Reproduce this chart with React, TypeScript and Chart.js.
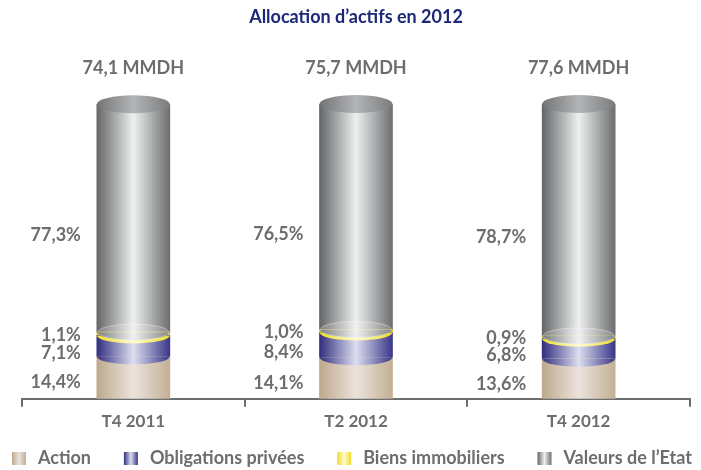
import React, { useEffect, useRef } from 'react';
import { Chart, registerables } from 'chart.js';

Chart.register(...registerables);

// ---- data ----
const categories = ['T4 2011', 'T2 2012', 'T4 2012'];
const totalsMMDH = [74.1, 75.7, 77.6];
const actionPct = [14.4, 14.1, 13.6];
const obligationsPct = [7.1, 8.4, 6.8];
const biensPct = [1.1, 1.0, 0.9];
const valeursPct = [77.3, 76.5, 78.7];
const seriesNames = ['Action', 'Obligations privées', 'Biens immobiliers', 'Valeurs de l’Etat'];
const titleText = 'Allocation d’actifs en 2012';

// ---- styles ----
const FONT = 'Lato, "Open Sans", sans-serif';
const GREY_TEXT = '#6c6d6f';
const BAR_W = 73;
const RY = 8;
const RY_TOP = 9;
const PALETTES: string[][] = [
  ['#bea98d', '#ebe3dc', '#c3af95'],
  ['#322e7e', '#dcdef0', '#3a3688'],
  ['#f0dc25', '#fffbd0', '#f0dc25'],
  ['#656668', '#eeefef', '#6d6e70'],
];
const CAP_PAL = ['#737476', '#b3b4b5', '#7b7c7e'];
const LABEL_OFFSETS = [5, 7, 1, 17];

function hGrad(ctx: CanvasRenderingContext2D, x0: number, x1: number, pal: string[]) {
  const g = ctx.createLinearGradient(x0, 0, x1, 0);
  g.addColorStop(0, pal[0]);
  g.addColorStop(0.5, pal[1]);
  g.addColorStop(1, pal[2]);
  return g;
}

const fmt = (v: number) => v.toFixed(1).replace('.', ',');

const cylinderPlugin = {
  id: 'cylinder',
  afterDatasetsDraw(chart: any) {
    const ctx: CanvasRenderingContext2D = chart.ctx;
    const n = chart.data.datasets.length;
    for (let j = 0; j < chart.data.labels.length; j++) {
      for (let i = 1; i < n; i++) {
        const el = chart.getDatasetMeta(i).data[j];
        if (!el) continue;
        const { x, base, width } = el.getProps(['x', 'base', 'width'], true);
        const rx = width / 2;
        ctx.save();
        ctx.beginPath();
        ctx.ellipse(x, base, rx, RY, 0, 0, Math.PI);
        ctx.closePath();
        ctx.fillStyle = hGrad(ctx, x - rx, x + rx, PALETTES[i]);
        ctx.fill();
        if (i === n - 1) {
          ctx.beginPath();
          ctx.ellipse(x, base, rx - 1, RY, 0, 0, Math.PI * 2);
          ctx.fillStyle = 'rgba(255,255,255,0.15)';
          ctx.fill();
          ctx.strokeStyle = 'rgba(255,255,255,0.45)';
          ctx.lineWidth = 0.8;
          ctx.stroke();
        }
        ctx.restore();
      }
      // top cap
      const top = chart.getDatasetMeta(n - 1).data[j];
      if (top) {
        const { x, y, width } = top.getProps(['x', 'y', 'width'], true);
        const rx = width / 2;
        ctx.save();
        ctx.beginPath();
        ctx.ellipse(x, y, rx, RY_TOP, 0, 0, Math.PI * 2);
        ctx.fillStyle = hGrad(ctx, x - rx, x + rx, CAP_PAL);
        ctx.fill();
        ctx.restore();
      }
    }
  },
};

const labelsPlugin = {
  id: 'valueLabels',
  afterDatasetsDraw(chart: any) {
    const ctx: CanvasRenderingContext2D = chart.ctx;
    const n = chart.data.datasets.length;
    ctx.save();
    ctx.fillStyle = GREY_TEXT;
    ctx.font = `bold 18px ${FONT}`;
    ctx.textBaseline = 'middle';
    for (let i = 0; i < n; i++) {
      const ds = chart.data.datasets[i];
      const meta = chart.getDatasetMeta(i);
      meta.data.forEach((el: any, j: number) => {
        const { x, y, base, width } = el.getProps(['x', 'y', 'base', 'width'], true);
        ctx.textAlign = 'right';
        ctx.fillText(fmt(ds.data[j]) + '%', x - width / 2 - 16, (y + base) / 2 + LABEL_OFFSETS[i]);
      });
    }
    const topMeta = chart.getDatasetMeta(n - 1);
    topMeta.data.forEach((el: any, j: number) => {
      const { x, y } = el.getProps(['x', 'y'], true);
      ctx.textAlign = 'center';
      ctx.fillText(`${fmt(totalsMMDH[j])} MMDH`, x, y - 36);
    });
    ctx.restore();
  },
};

const legendPlugin = {
  id: 'cylLegend',
  afterDraw(chart: any) {
    const ctx: CanvasRenderingContext2D = chart.ctx;
    const left = 12;
    const right = 692;
    const yc = 458.5;
    const sw = 14;
    const sh = 13;
    const textGap = 12;
    ctx.save();
    ctx.font = `bold 18px ${FONT}`;
    ctx.textBaseline = 'middle';
    ctx.textAlign = 'left';
    const names: string[] = chart.data.datasets.map((d: any) => d.label);
    const widths = names.map((t) => ctx.measureText(t).width);
    const used = widths.reduce((a, w) => a + w + sw + textGap, 0);
    const gap = (right - left - used) / (names.length - 1);
    let x = left;
    names.forEach((t, i) => {
      ctx.fillStyle = hGrad(ctx, x, x + sw, PALETTES[i]);
      ctx.fillRect(x, yc - sh / 2, sw, sh);
      ctx.fillStyle = GREY_TEXT;
      ctx.fillText(t, x + sw + textGap, yc);
      x += sw + textGap + widths[i] + gap;
    });
    ctx.restore();
  },
};

export default function App() {
  const ref = useRef<HTMLCanvasElement>(null);
  useEffect(() => {
    let chart: Chart | null = null;
    let cancelled = false;
    const make = () => {
      if (cancelled || !ref.current) return;
      Chart.defaults.font.family = FONT;
      const seriesData = [actionPct, obligationsPct, biensPct, valeursPct];
      chart = new Chart(ref.current, {
        type: 'bar',
        data: {
          labels: categories,
          datasets: seriesData.map((d, i) => ({
            label: seriesNames[i],
            data: d,
            barThickness: BAR_W,
            borderWidth: 0,
            backgroundColor: (c: any) => {
              const ch = c.chart;
              const xs = ch.scales && ch.scales.x;
              if (!ch.chartArea || !xs || c.dataIndex == null) return PALETTES[i][1];
              const x = xs.getPixelForValue(c.dataIndex);
              return hGrad(ch.ctx, x - BAR_W / 2, x + BAR_W / 2, PALETTES[i]);
            },
          })),
        },
        options: {
          responsive: false,
          animation: false,
          layout: { padding: { left: 22, right: 11, top: 0, bottom: 32.8 } },
          plugins: {
            legend: { display: false },
            tooltip: { enabled: false },
            title: {
              display: true,
              text: titleText,
              color: '#1c2878',
              font: { size: 18, weight: 'bold', family: FONT },
              padding: { top: 6.2, bottom: 76.2 },
            },
          },
          scales: {
            x: {
              stacked: true,
              offset: true,
              grid: {
                offset: true,
                drawOnChartArea: false,
                drawTicks: true,
                tickLength: 8,
                color: '#6d6e70',
                lineWidth: 2,
              },
              border: { display: true, color: '#6d6e70', width: 2 },
              ticks: {
                color: GREY_TEXT,
                padding: 5,
                font: { size: 17, weight: 'bold', family: FONT },
              },
            },
            y: {
              stacked: true,
              display: false,
              min: 0,
              max: 100,
            },
          },
        },
        plugins: [cylinderPlugin, labelsPlugin, legendPlugin],
      });
    };
    const fontsApi: any = (document as any).fonts;
    if (fontsApi && fontsApi.load) {
      fontsApi.load(`bold 18px Lato`).then(make, make);
    } else {
      make();
    }
    return () => {
      cancelled = true;
      if (chart) chart.destroy();
    };
  }, []);
  return (
    <div style={{ position: 'fixed', left: 0, top: 0, width: 701, height: 470, background: '#fff' }}>
      <canvas ref={ref} width={701} height={470} style={{ display: 'block' }} />
    </div>
  );
}
